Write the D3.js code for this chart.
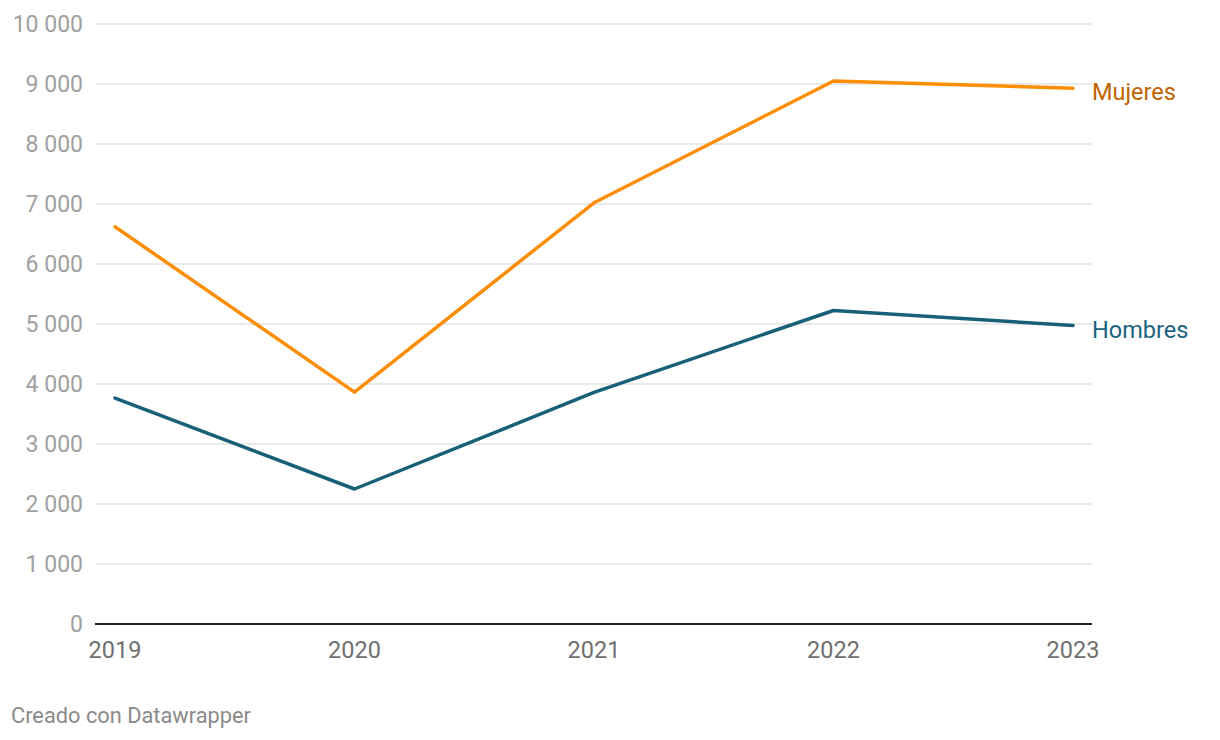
<!DOCTYPE html>
<html><head><meta charset="utf-8">
<script src="https://cdn.jsdelivr.net/npm/d3@7"></script>
<style>body{margin:0;background:#fff;font-family:Roboto,sans-serif}</style>
</head><body><svg id="c" width="1220" height="740"></svg>
<script>
const years = ["2019","2020","2021","2022","2023"];
const mujeres = [6620, 3865, 7020, 9050, 8930];
const hombres = [3765, 2250, 3860, 5225, 4975];
const yTicks = [0,1000,2000,3000,4000,5000,6000,7000,8000,9000,10000];
const seriesNames = ["Mujeres","Hombres"];

const svg = d3.select("#c");
const x = d3.scalePoint().domain(years).range([115, 1073]);
const y = d3.scaleLinear().domain([0,10000]).range([624, 24]);
const fmt = v => d3.format(",")(v).replace(/,/g, "\u00a0");

const g = svg.append("g");
g.selectAll("line.grid").data(yTicks.filter(d=>d>0)).join("line")
  .attr("x1",96).attr("x2",1092).attr("y1",d=>y(d)).attr("y2",d=>y(d))
  .attr("stroke","#e3e3e3").attr("stroke-width",1.5);
g.selectAll("text.yl").data(yTicks).join("text")
  .attr("x",83).attr("y",d=>y(d)).attr("dy","0.35em").attr("text-anchor","end")
  .attr("font-size",23).attr("fill","#a0a0a0").text(d=>fmt(d));
g.append("line").attr("x1",95).attr("x2",1092).attr("y1",y(0)).attr("y2",y(0))
  .attr("stroke","#222").attr("stroke-width",2);
g.selectAll("text.xl").data(years).join("text")
  .attr("x",d=>x(d)).attr("y",658).attr("text-anchor","middle")
  .attr("font-size",23.5).attr("fill","#707070").text(d=>d);

const line = d3.line().x((d,i)=>x(years[i])).y(d=>y(d));
const series = [
  {name:seriesNames[0], vals:mujeres, color:"#fb8e05", label:"#c16300"},
  {name:seriesNames[1], vals:hombres, color:"#186077", label:"#1a6382"}
];
series.forEach(s=>{
  g.append("path").attr("d",line(s.vals)).attr("fill","none")
    .attr("stroke",s.color).attr("stroke-width",3.5)
    .attr("stroke-linejoin","round").attr("stroke-linecap","round");
  g.append("text").attr("x",1092).attr("y",y(s.vals[4])+4).attr("dy","0.35em")
    .attr("font-size",23.5).attr("fill",s.label).text(s.name);
});
svg.append("text").attr("x",11).attr("y",723).attr("font-size",21.8)
  .attr("fill","#8a8a8a").text("Creado con Datawrapper");
</script></body></html>
